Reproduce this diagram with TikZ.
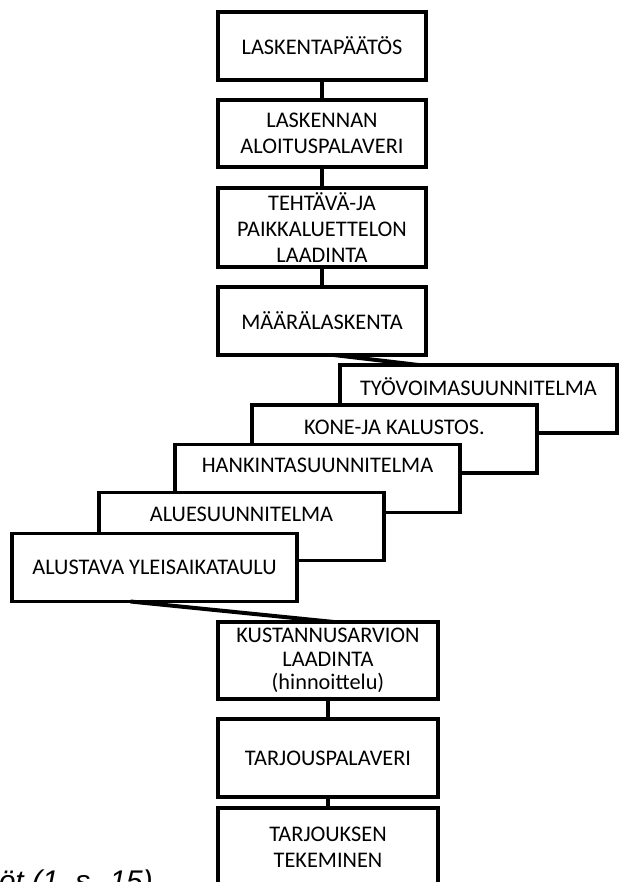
\documentclass[tikz,border=0pt]{standalone}
\usepackage{fontspec}
\setmainfont{Carlito}
\newfontfamily\capfont{Liberation Sans}
\usetikzlibrary{positioning}
\tikzset{
  box/.style={draw, line width=3.2bp, fill=white, align=center, inner sep=0pt, outer sep=0pt,
    font=\fontsize{22.4}{26}\selectfont},
  colbox/.style={box, minimum width=208bp},
  stepbox/.style={box, minimum width=285bp, minimum height=68bp},
  steptext/.style={align=center, inner sep=0pt, font=\fontsize{22.4}{26}\selectfont},
  conn/.style={line width=4bp},
}
\begin{document}
\begin{tikzpicture}[x=1bp,y=-1bp]
    \useasboundingbox (0,0) rectangle (620,882);
    \clip (0,0) rectangle (620,882);
    \node[colbox, minimum height=68bp] (paatos) at (322,46) {LASKENTAPÄÄTÖS};
    \node[colbox, minimum height=67bp, below=20bp of paatos] (aloitus) {LASKENNAN\\ALOITUSPALAVERI};
    \node[colbox, minimum height=79bp, below=21bp of aloitus] (tehtava) {TEHTÄVÄ-JA\\PAIKKALUETTELON\\LAADINTA};
    \node[colbox, minimum height=68bp, below=20bp of tehtava] (maara) {MÄÄRÄLASKENTA};
    \draw[conn] (paatos) -- (aloitus);
    \draw[conn] (aloitus) -- (tehtava);
    \draw[conn] (tehtava) -- (maara);

    \node[stepbox, minimum width=277bp] (tyo) at (478.5,399) {};
    \node[steptext] (tyo-t) at ([yshift=-22bp]tyo.north) {TYÖVOIMASUUNNITELMA};
    \node[stepbox] (kone) at (394.5,439) {};
    \node[steptext] (kone-t) at ([yshift=-22bp]kone.north) {KONE-JA KALUSTOS.};
    \node[stepbox] (hank) at (317.5,478.5) {};
    \node[steptext] (hank-t) at ([yshift=-21bp]hank.north) {HANKINTASUUNNITELMA};
    \node[stepbox] (alue) at (241.5,526.5) {};
    \node[steptext] (alue-t) at ([yshift=-22bp]alue.north) {ALUESUUNNITELMA};
    \node[stepbox] (alust) at (154.5,567.5) {ALUSTAVA YLEISAIKATAULU};
    \draw[conn] ([xshift=12bp]maara.south) -- ([xshift=-60bp]tyo.north);

    \node[colbox, minimum width=220bp, minimum height=77bp, font=\fontsize{22.4}{23.5}\selectfont] (kust) at (328,660.5) {KUSTANNUSARVION\\LAADINTA\\(hinnoittelu)};
    \node[colbox, minimum width=220bp, minimum height=78bp, below=20bp of kust] (tarjous) {TARJOUSPALAVERI};
    \node[colbox, minimum width=220bp, minimum height=78bp, below=11bp of tarjous] (tekem) {TARJOUKSEN\\TEKEMINEN};
    \draw[conn] ([xshift=-24bp]alust.south) -- ([xshift=6bp]kust.north);
    \draw[conn] (kust) -- (tarjous);
    \draw[conn] (tarjous) -- (tekem);

    \node[anchor=base east, inner sep=0pt, font=\capfont\itshape\fontsize{30}{36}\selectfont] (kuva) at (153,891) {öt (1, s. 15)};
\end{tikzpicture}
\end{document}
